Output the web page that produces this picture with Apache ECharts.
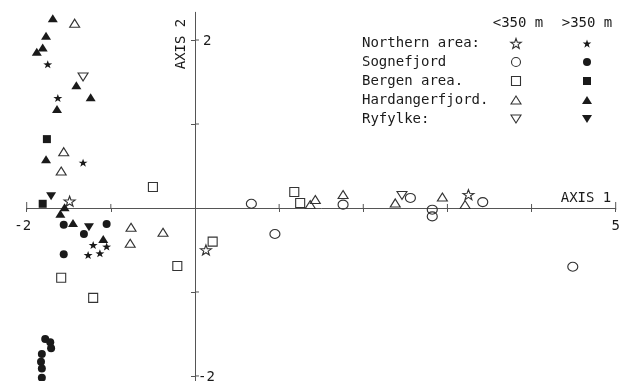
<!DOCTYPE html>
<html><head><meta charset="utf-8">
<script src="https://cdn.jsdelivr.net/npm/echarts@6/dist/echarts.min.js"></script>
<style>html,body{margin:0;padding:0;background:#fff}#c{width:631px;height:381px}</style>
</head><body><div id="c"></div><script>
// ---- data ----
const regionNames = ['Northern area:', 'Sognefjord', 'Bergen area.', 'Hardangerfjord.', 'Ryfylke:'];
const classNames = ['<350 m', '>350 m'];
const axis1Name = 'AXIS 1';
const axis2Name = 'AXIS 2';
const xTickValues = [-2, -1, 1, 2, 3, 4, 5];
const xLabelValues = [-2, 5];
const yTickValues = [-2, -1, 1, 2];
const yLabelValues = [2, -2];

const northernLow = [[-1.49, 0.08], [0.13, -0.50], [3.25, 0.16]];
const northernHigh = [[-1.75, 1.71], [-1.63, 1.31], [-1.33, 0.54], [-1.21, -0.44], [-1.05, -0.46], [-1.27, -0.56], [-1.13, -0.54]];
const sognLow = [[0.67, 0.05], [0.95, -0.31], [1.76, 0.04], [2.56, 0.12], [2.82, -0.02], [2.82, -0.10], [3.42, 0.07], [4.49, -0.70]];
const sognHigh = [[-1.56, -0.20], [-1.05, -0.19], [-1.32, -0.31], [-1.56, -0.55],
  [-1.78, -1.56], [-1.72, -1.60], [-1.71, -1.67], [-1.82, -1.74], [-1.83, -1.83], [-1.82, -1.91], [-1.82, -2.02]];
const bergenLow = [[-0.50, 0.25], [0.21, -0.40], [-0.21, -0.69], [-1.59, -0.83], [-1.21, -1.07], [1.18, 0.19], [1.25, 0.06]];
const bergenHigh = [[-1.76, 0.82], [-1.81, 0.05]];
const hardLow = [[-1.43, 2.20], [-1.56, 0.67], [-1.59, 0.44], [-0.76, -0.23], [-0.77, -0.42], [-0.38, -0.29],
  [1.37, 0.04], [1.43, 0.10], [1.76, 0.16], [2.38, 0.06], [2.94, 0.13], [3.21, 0.04]];
const hardHigh = [[-1.69, 2.26], [-1.77, 2.05], [-1.81, 1.91], [-1.88, 1.86], [-1.41, 1.46], [-1.24, 1.32], [-1.64, 1.18],
  [-1.77, 0.58], [-1.60, -0.07], [-1.55, 0.01], [-1.45, -0.18], [-1.09, -0.37]];
const ryfLow = [[-1.33, 1.56], [2.46, 0.15]];
const ryfHigh = [[-1.71, 0.14], [-1.26, -0.23]];

// ---- styles ----
const FONT = '"DejaVu Sans Mono", monospace';
const INK = '#1a1a1a';
const LINE = '#555';
const STAR = 'path://M0,-10L2.35,-3.24L9.51,-3.09L3.8,1.24L5.88,8.09L0,4L-5.88,8.09L-3.8,1.24L-9.51,-3.09L-2.35,-3.24Z';
const shapes = [
  {sym: STAR, rot: 0, openSize: [11, 10], fillSize: [9, 8]},
  {sym: 'circle', rot: 0, openSize: [10, 9], fillSize: [8, 8]},
  {sym: 'rect', rot: 0, openSize: [9, 9], fillSize: [8, 8]},
  {sym: 'triangle', rot: 0, openSize: [10, 8], fillSize: [10, 8]},
  {sym: 'triangle', rot: 180, openSize: [10, 8], fillSize: [10, 8]}
];
const lowSets = [northernLow, sognLow, bergenLow, hardLow, ryfLow];
const highSets = [northernHigh, sognHigh, bergenHigh, hardHigh, ryfHigh];

const series = [];
regionNames.forEach((name, i) => {
  const s = shapes[i];
  series.push({
    type: 'scatter', name: name + ' ' + classNames[0], data: lowSets[i], clip: false,
    symbol: s.sym, symbolRotate: s.rot, symbolSize: s.openSize,
    itemStyle: {color: 'rgba(255,255,255,0)', borderColor: '#333', borderWidth: 1.1, opacity: 1},
    emphasis: {disabled: true}, z: 3
  });
  series.push({
    type: 'scatter', name: name + ' ' + classNames[1], data: highSets[i], clip: false,
    symbol: s.sym, symbolRotate: s.rot, symbolSize: s.fillSize,
    itemStyle: {color: INK, opacity: 1},
    emphasis: {disabled: true}, z: 4
  });
});

// ---- legend drawn as graphics ----
function starPts(cx, cy, R) {
  const pts = [];
  for (let k = 0; k < 10; k++) {
    const a = -Math.PI / 2 + k * Math.PI / 5;
    const r = k % 2 === 0 ? R : R * 0.4;
    pts.push([cx + r * Math.cos(a), cy + r * Math.sin(a)]);
  }
  return pts;
}
function icon(kind, cx, cy, filled) {
  const style = filled ? {fill: INK} : {fill: 'none', stroke: '#333', lineWidth: 1.1};
  if (kind === 0) return {type: 'polygon', shape: {points: starPts(cx, cy + 1, filled ? 4.5 : 5.5)}, style};
  if (kind === 1) return {type: 'circle', shape: {cx, cy, r: filled ? 4 : 4.5}, style};
  if (kind === 2) { const h = filled ? 4 : 4.5; return {type: 'rect', shape: {x: cx - h, y: cy - h, width: 2 * h, height: 2 * h}, style}; }
  if (kind === 3) return {type: 'polygon', shape: {points: [[cx, cy - 4], [cx + 5, cy + 4], [cx - 5, cy + 4]]}, style};
  return {type: 'polygon', shape: {points: [[cx - 5, cy - 4], [cx + 5, cy - 4], [cx, cy + 4]]}, style};
}
const txt = (x, y, text, extra) => ({
  type: 'text', x, y,
  style: Object.assign({text, font: '14px ' + FONT, fill: INK, align: 'left', textAlign: 'left',
    verticalAlign: 'middle', textVerticalAlign: 'middle'}, (extra || {}))
});
const graphics = [];
graphics.push(txt(518, 23, classNames[0], {align: 'center', textAlign: 'center'}));
graphics.push(txt(587, 23, classNames[1], {align: 'center', textAlign: 'center'}));
regionNames.forEach((name, i) => {
  const y = 43 + i * 19;
  graphics.push(txt(362, y, name));
  graphics.push(icon(i, 516, y, false));
  graphics.push(icon(i, 587, y, true));
});
graphics.push(txt(586, 198, axis1Name, {align: 'center', textAlign: 'center'}));
const ax2 = txt(181, 44, axis2Name, {align: 'center', textAlign: 'center'});
ax2.rotation = Math.PI / 2;
graphics.push(ax2);

const axLine = {show: true, onZero: true, lineStyle: {color: LINE, width: 1}};
const option = {
  animation: false,
  backgroundColor: '#fff',
  grid: {left: 26.7, right: 15.3, top: 12.3, bottom: 0, containLabel: false, outerBoundsMode: 'none'},
  xAxis: {
    type: 'value', min: -2, max: 5, interval: 1,
    axisLine: axLine, splitLine: {show: false},
    axisTick: {show: true, length: 4, customValues: xTickValues, lineStyle: {color: LINE}},
    axisLabel: {show: false}
  },
  yAxis: {
    type: 'value', min: -2.06, max: 2.33,
    axisLine: axLine, splitLine: {show: false},
    axisTick: {show: true, length: 4, customValues: yTickValues, lineStyle: {color: LINE}},
    axisLabel: {show: false}
  },
  series: series
};
const chart = echarts.init(document.getElementById('c'), null, {renderer: 'canvas'});
chart.setOption(option);

// tick labels and the other half of each tick cross, placed through the chart's own scales
const extra = [];
const tickLine = (x1, y1, x2, y2) => ({type: 'line', shape: {x1, y1, x2, y2}, style: {stroke: LINE, lineWidth: 1}});
xTickValues.forEach(v => {
  const p = chart.convertToPixel({gridIndex: 0}, [v, 0]);
  const h = (v === -2 || v === 5) ? 6 : 4;
  extra.push(tickLine(p[0], p[1] - h, p[0], p[1] + (h - 4)));
});
yTickValues.forEach(v => {
  const p = chart.convertToPixel({gridIndex: 0}, [0, v]);
  extra.push(tickLine(p[0], p[1], p[0] + 4, p[1]));
});
xLabelValues.forEach(v => {
  const p = chart.convertToPixel({gridIndex: 0}, [v, 0]);
  extra.push(txt(p[0] + (v < 0 ? -4 : 0), p[1] + 18, String(v), {align: 'center', textAlign: 'center'}));
});
yLabelValues.forEach(v => {
  const p = chart.convertToPixel({gridIndex: 0}, [0, v]);
  extra.push(txt(p[0] + (v < 0 ? 3 : 8), p[1] + 1, String(v)));
});
chart.setOption({graphic: {elements: graphics.concat(extra)}});
</script></body></html>
